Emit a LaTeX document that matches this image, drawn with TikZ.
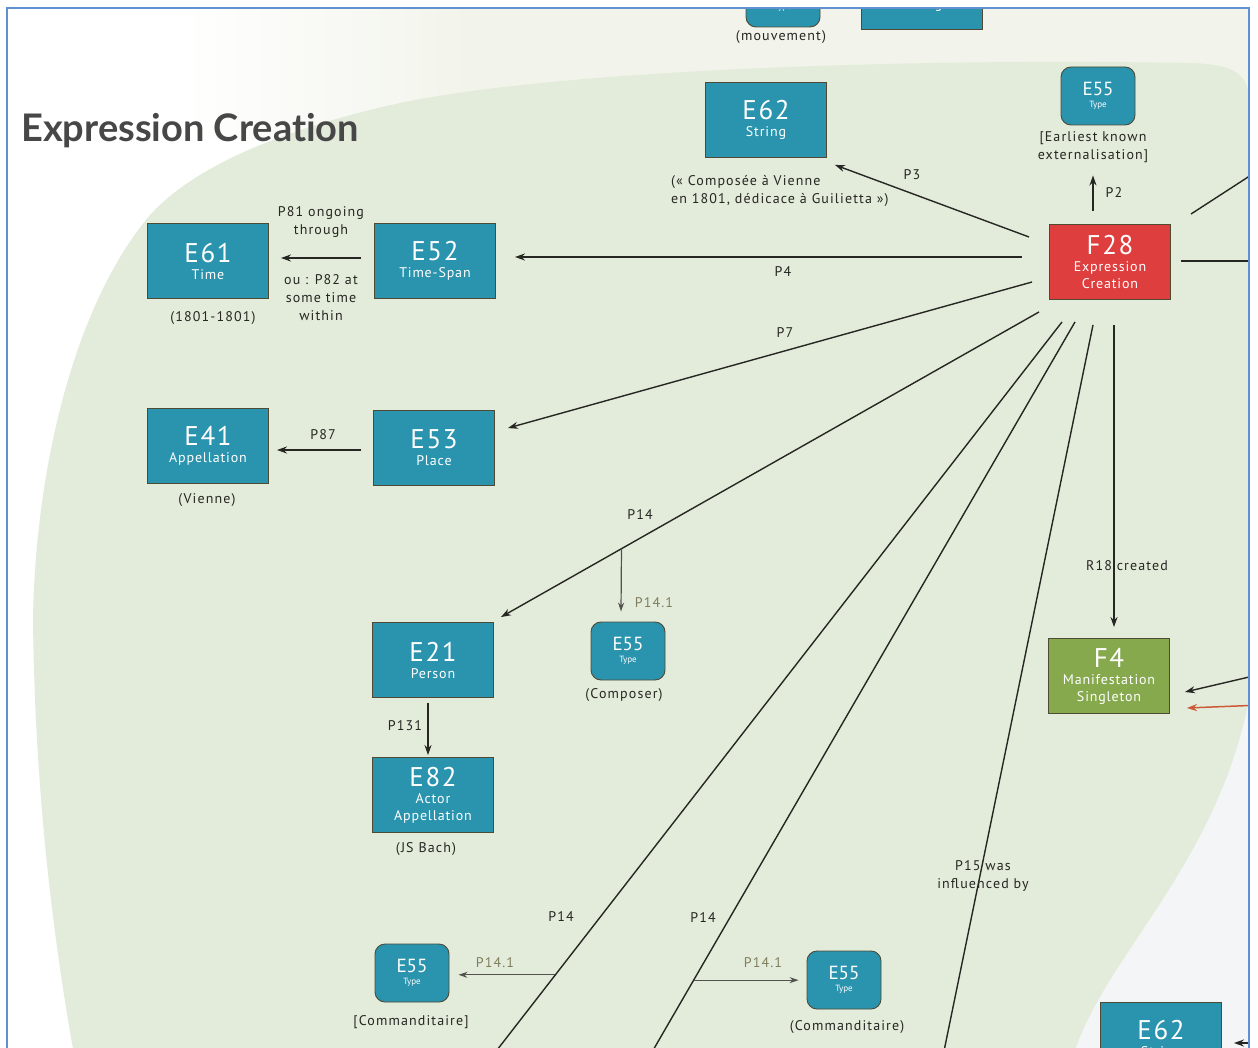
\documentclass[tikz,border=0pt]{standalone}
\usepackage{fontspec}
\setmainfont{PT Sans}
\newfontfamily\titlefont[Ligatures={NoCommon,NoRare}]{Lato}
\newfontfamily\spfont[LetterSpace=6]{PT Sans}
\newfontfamily\lblfont[LetterSpace=8]{PT Sans}
\usetikzlibrary{arrows.meta,calc}

\definecolor{boxteal}{RGB}{42,147,174}
\definecolor{boxred}{RGB}{222,62,62}
\definecolor{boxgreen}{RGB}{134,169,78}
\definecolor{boxedge}{RGB}{78,74,52}
\definecolor{bggreen}{RGB}{227,236,219}
\definecolor{bgpale}{RGB}{242,244,235}
\definecolor{bgblue}{RGB}{243,245,247}
\definecolor{framecol}{RGB}{96,146,208}
\definecolor{inkline}{RGB}{38,38,34}
\definecolor{olive}{RGB}{128,126,92}
\definecolor{arrowred}{RGB}{205,90,55}

\newcommand\ecode[1]{{\fontsize{27}{27}\selectfont #1}}
\newcommand\tcode[1]{{\fontsize{19}{19}\selectfont #1}}
\newcommand\tsub[1]{{\fontsize{9}{11}\selectfont #1}}

\begin{document}
\begin{tikzpicture}[x=1pt,y=-1pt,
  entity/.style={rectangle, draw=boxedge, line width=0.9pt, fill=boxteal,
    minimum width=121pt, minimum height=75pt, inner sep=0pt, text=white,
    align=center, font=\spfont\fontsize{14}{17}\selectfont},
  typebox/.style={rectangle, rounded corners=10pt, draw=boxedge, line width=0.9pt,
    fill=boxteal, minimum width=74pt, minimum height=58pt, inner sep=0pt,
    text=white, align=center, font=\fontsize{9}{12}\selectfont},
  lbl/.style={inner sep=1pt, align=center, text=inkline,
    font=\lblfont\fontsize{14}{18}\selectfont},
  sublbl/.style={lbl, text=olive},
  rel/.style={draw=inkline, line width=1.4pt, -{Stealth[length=10pt,width=7pt]}},
  plain/.style={draw=inkline, line width=1.4pt},
  branch/.style={draw=inkline!80, line width=1.2pt, -{Stealth[length=9pt,width=6pt]}}
]
\useasboundingbox (0,0) rectangle (1258,1048);
\fill[white] (0,0) rectangle (1258,1048);

\begin{scope}
\clip (8,9) rectangle (1248,1048);

% backdrop: pale band at the top, green field, bluish corner
\fill[bgpale] (470,9) rectangle (1248,140);
\shade[left color=white, right color=bgpale] (180,9) rectangle (471,140);
\fill[bgblue] (900,700) rectangle (1248,1048);
\fill[bggreen] (1249,100) .. controls (1249,72) and (1230,64) .. (1190,63)
  .. controls (900,58) and (560,70) .. (400,103)
  .. controls (300,125) and (200,160) .. (150,215)
  .. controls (70,310) and (35,480) .. (33,620)
  .. controls (35,800) and (55,950) .. (75,1060)
  -- (1072,1060)
  .. controls (1100,960) and (1215,870) .. (1249,700) -- cycle;

% title
\node[anchor=west, inner sep=0pt, text=black!72, font=\titlefont\bfseries\fontsize{38}{38}\selectfont]
  (title) at (21,131) {Expression Creation};

% entities
\node[typebox] (e55top) at (783,-2) {\tcode{E55}\\ \tsub{Type}};
\node[entity] (e62top) at (922,-8) {\ecode{E62}\\ String};
\node[lbl] (mouv) at (781,37) {(mouvement)};

\node[entity] (e62) at (766,120) {\ecode{E62}\\ String};
\node[typebox] (e55a) at (1098,96) {\tcode{E55}\\ \tsub{Type}};
\node[entity, fill=boxred] (f28) at (1110,262) {\ecode{F28}\\ Expression\\ Creation};
\node[entity] (e61) at (208,261) {\ecode{E61}\\ Time};
\node[entity] (e52) at (435,261) {\ecode{E52}\\ Time-Span};
\node[entity] (e41) at (208,446) {\ecode{E41}\\ Appellation};
\node[entity] (e53) at (434,448) {\ecode{E53}\\ Place};
\node[entity] (e21) at (433,660) {\ecode{E21}\\ Person};
\node[typebox] (e55b) at (628,651) {\tcode{E55}\\ \tsub{Type}};
\node[entity] (e82) at (433,795) {\ecode{E82}\\ Actor\\ Appellation};
\node[entity, fill=boxgreen] (f4) at (1109,676) {\ecode{F4}\\ Manifestation\\ Singleton};
\node[typebox] (e55c) at (412,973) {\tcode{E55}\\ \tsub{Type}};
\node[typebox] (e55d) at (844,980) {\tcode{E55}\\ \tsub{Type}};
\node[entity] (e62b) at (1161,1040) {\ecode{E62}\\ String};

% values written under the entities
\node[lbl, anchor=north west, align=left] (strval) at (670,174)
  {(« Composée à Vienne\\en 1801, dédicace à Guilietta »)};
\node[lbl] (earliest) at (1093,147) {[Earliest known\\externalisation]};
\node[lbl] (timeval) at (213,318) {(1801-1801)};
\node[lbl] (placeval) at (207,500) {(Vienne)};
\node[lbl] (compval) at (624,695) {(Composer)};
\node[lbl] (bachval) at (426,849) {(JS Bach)};
\node[lbl] (commA) at (411,1022) {[Commanditaire]};
\node[lbl] (commB) at (847,1027) {(Commanditaire)};

% free ends of the properties leaving the frame
\coordinate (offNE) at (1262,168);
\coordinate (offE) at (1262,261);
\coordinate (inBlack) at (1262,674);
\coordinate (inRed) at (1262,705);
\coordinate (inE62) at (1262,1043);
\coordinate (offA) at (466,1090);
\coordinate (offB) at (630,1090);
\coordinate (offC) at (936,1090);

% properties of F28
\draw[rel] ($(f28.north)+(-17,-13)$) -- ($(e55a.south)+(-5,50)$);
\draw[rel] ($(f28.west)+(-20,-25)$) -- ($(e62.south east)+(8,7)$);
\draw[rel] ($(f28.west)+(-27,-5)$) -- ($(e52.east)+(19,-4)$);
\draw[rel] ($(f28.west)+(-17,20)$) -- ($(e53.north east)+(13,18)$);
\draw[rel] ($(f28.south west)+(-10,12)$) coordinate (p14s) -- ($(e21.north east)+(7,-5)$) coordinate (p14e);
\draw[rel] ($(f28.south)+(4,25)$) -- ($(f4.north)+(5,-11)$);
\draw[plain] ($(f28.north east)+(20,-10)$) -- (offNE);
\draw[plain] ($(f28.east)+(10,-1)$) -- (offE);
\draw[plain] ($(f28.south)+(-48,22)$) coordinate (la) -- (offA);
\draw[plain] ($(f28.south)+(-35,22)$) coordinate (lb) -- (offB);
\draw[plain] ($(f28.south)+(-17,25)$) -- (offC);

% P14.1 branches
\coordinate (bp) at ($(p14s)!0.776!(p14e)$);
\draw[branch] (bp) -- ($(e55b.north)+(-7,-10)$);
\coordinate (ba) at ($(la)!0.850!(offA)$);
\draw[branch] (ba) -- ($(ba -| e55c.east)+(9,0)$);
\coordinate (bb) at ($(lb)!0.857!(offB)$);
\draw[branch] (bb) -- ($(bb -| e55d.west)+(-8,0)$);

% other properties
\draw[rel] ($(e52.west)+(-13,-3)$) -- ($(e61.east)+(12,-3)$);
\draw[rel] ($(e53.west)+(-12,2)$) -- ($(e41.east)+(8,4)$);
\draw[rel] ($(e21.south)+(-5,5)$) -- ($(e82.north)+(-5,-2)$);
\draw[rel] (inBlack) -- ($(f4.east)+(15,16)$);
\draw[rel, draw=arrowred, line width=1.5pt] (inRed) -- ($(f4.east)+(17,32)$);
\draw[rel] (inE62) -- ($(e62b.east)+(12,3)$);

% property labels
\node[lbl] (lp2) at (1114,193) {P2};
\node[lbl] (lp3) at (912,175) {P3};
\node[lbl] (lp4) at (783,272) {P4};
\node[lbl] (lp7) at (785,333) {P7};
\node[lbl] (lp81) at (321,222) {P81 ongoing\\through};
\node[lbl] (lp82) at (321,298) {ou : P82 at\\some time\\within};
\node[lbl] (lp87) at (323,435) {P87};
\node[lbl] (lp14a) at (640,515) {P14};
\node[sublbl] (lp141a) at (654,603) {P14.1};
\node[lbl] (lp131) at (405,726) {P131};
\node[lbl] (lr18) at (1127,566) {R18 created};
\node[lbl] (lp14b) at (561,917) {P14};
\node[lbl] (lp14c) at (703,918) {P14};
\node[sublbl] (lp141b) at (495,963) {P14.1};
\node[sublbl] (lp141c) at (763,963) {P14.1};
\node[lbl] (lp15) at (983,876) {P15 was\\influenced by};
\end{scope}

% frame
\draw[framecol, line width=2pt] (7,1060) -- (7,8) -- (1249,8) -- (1249,1060);
\end{tikzpicture}
\end{document}
